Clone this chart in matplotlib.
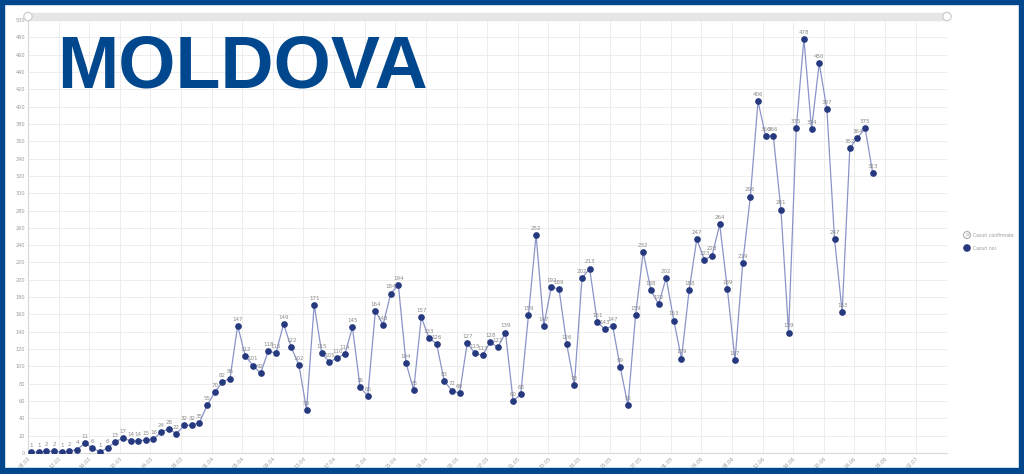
import numpy as np
import matplotlib
matplotlib.use("Agg")
import matplotlib.pyplot as plt
from matplotlib.patches import Rectangle, Ellipse
import pandas as pd

# daily new cases, Moldova, from 08.03
start_date = "2020-03-08"
new_cases = [1, 1, 2, 2, 1, 2, 4, 11, 6, 1, 6, 13, 17, 14, 14, 15, 16, 24, 28, 22,
             32, 32, 35, 55, 70, 82, 86, 147, 112, 101, 92, 118, 115, 149, 122, 102, 50,
             171, 115, 105, 110, 114, 145, 76, 66, 164, 148, 184, 194, 104, 73, 157,
             133, 126, 83, 72, 69, 127, 115, 113, 128, 122, 139, 60, 68, 159, 252, 147,
             192, 189, 126, 78, 202, 213, 151, 143, 147, 99, 55, 159, 232, 188, 172,
             202, 153, 109, 188, 247, 223, 228, 264, 189, 107, 219, 296, 406, 366, 366,
             281, 139, 375, 478, 374, 450, 397, 247, 163, 352, 364, 375, 323]
legend_labels = ["Cazuri confirmate", "Cazuri noi"]
title = "MOLDOVA"

dates = pd.date_range(start_date, periods=120, freq="D")
x = np.arange(len(new_cases))
tick_idx = np.arange(0, 117, 4)
tick_labels = [dates[i].strftime("%d.%m") for i in tick_idx]

W, H = 1024, 474
fig = plt.figure(figsize=(W / 100, H / 100), dpi=100)
fig.patch.set_facecolor("white")


def px(xp, yp):
    # pixel position from top-left -> figure fraction
    return xp / W, (H - yp) / H


def dot(xp, yp, r, **kw):
    fig.add_artist(Ellipse(px(xp, yp), 2 * r / W, 2 * r / H, transform=fig.transFigure, **kw))


ax = fig.add_axes([28 / W, 21 / H, (947 - 28) / W, (453 - 20) / H])
ax.plot(x, new_cases, color="#8b94c9", lw=0.9, zorder=2)
ax.plot(x, new_cases, "o", color="#26397f", ms=3.8, zorder=3)
for xi, v in zip(x, new_cases):
    ax.annotate(str(v), (xi, v), xytext=(0, 3), textcoords="offset points",
                ha="center", va="bottom", fontsize=4, color="#8a8a8a", zorder=4)

ax.set_xlim(-0.4, 119.7)
ax.set_ylim(0, 500)
ax.set_yticks(np.arange(0, 501, 20))
ax.set_xticks(tick_idx - 0.4)
ax.set_xticklabels(tick_labels, rotation=45, ha="right", rotation_mode="anchor")
ax.tick_params(axis="both", labelsize=3.6, labelcolor="#9a9a9a", length=0, pad=2)
ax.grid(True, color="#ededed", lw=0.7, zorder=0)
ax.set_axisbelow(True)
for s in ["top", "right"]:
    ax.spines[s].set_visible(False)
ax.spines["left"].set_color("#d8d8d8")
ax.spines["bottom"].set_color("#d8d8d8")
ax.spines["left"].set_linewidth(0.8)
ax.spines["bottom"].set_linewidth(0.8)

# scrollbar strip above the plot
fig.add_artist(Rectangle(px(28, 20), (947 - 28) / W, 7 / H,
                         transform=fig.transFigure, color="#e6e6e6", zorder=1))
for cx in (28, 947):
    dot(cx, 16.5, 4.2, facecolor="white", edgecolor="#c8c8c8", lw=0.8, zorder=2)

# legend at right
dot(967, 235, 3.5, facecolor="white", edgecolor="#b0b0b0", lw=0.8)
fig.text(*px(967, 235), "×", fontsize=5, color="#b0b0b0", ha="center", va="center")
dot(967, 248, 3.8, facecolor="#26397f", edgecolor="none")
fig.text(*px(973, 235), legend_labels[0], fontsize=3.3, color="#9a9a9a", va="center")
fig.text(*px(973, 248), legend_labels[1], fontsize=3.3, color="#9a9a9a", va="center")

# big title
fig.text(*px(57, 88), title, fontsize=53, fontweight="bold",
         family="Liberation Sans", color="#00478e", va="baseline", ha="left")

# blue frame
frame = "#00478e"
for (x0, y0, w, h) in [(0, 0, W, 4), (0, 468, W, 6), (0, 0, 4, H), (1019, 0, 5, H)]:
    fig.add_artist(Rectangle(px(x0, y0 + h), w / W, h / H, transform=fig.transFigure,
                             color=frame, zorder=10))

fig.savefig("out.png", dpi=100, facecolor="white")
